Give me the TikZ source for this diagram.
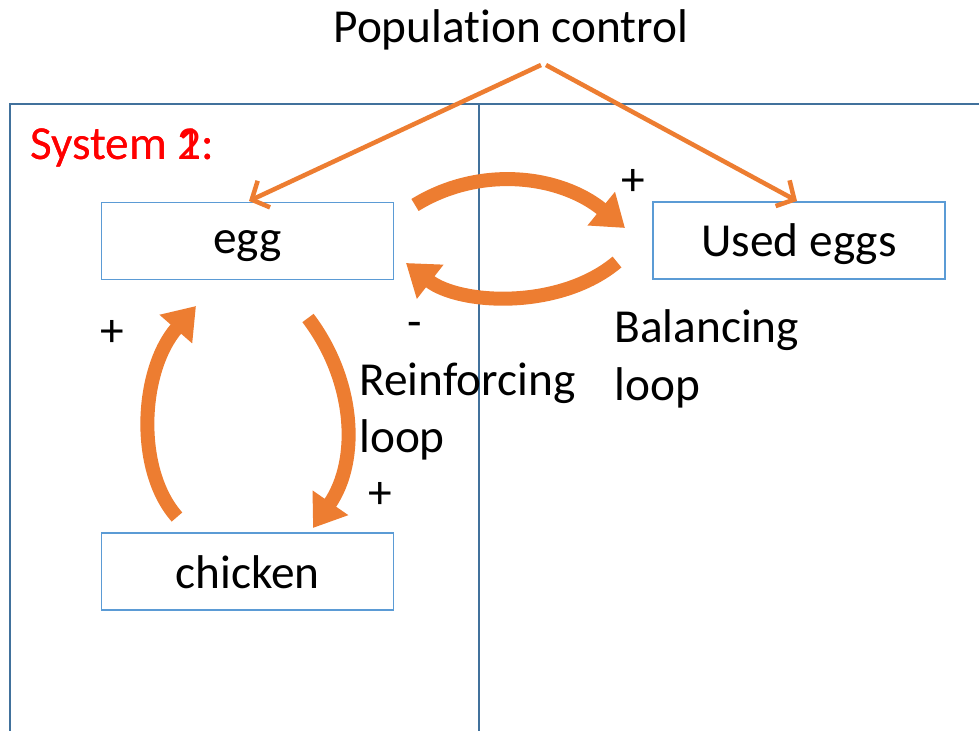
\documentclass[tikz,border=0pt]{standalone}
\usepackage{fontspec}
\setmainfont[Ligatures={NoCommon,NoContextual,NoRare}]{Carlito}
\usetikzlibrary{arrows.meta}
\definecolor{framec}{HTML}{41719C}
\definecolor{boxc}{HTML}{5B9BD5}
\definecolor{orgc}{HTML}{ED7D31}
\begin{document}
\begin{tikzpicture}[x=0.75pt,y=-0.75pt,
  txt/.style={font=\fontsize{35.5}{42}\selectfont, inner sep=0pt, anchor=base west},
  ctxt/.style={font=\fontsize{35.5}{42}\selectfont, inner sep=0pt, anchor=base},
  varbox/.style={draw=boxc, line width=1.4pt, minimum width=219pt, minimum height=57.75pt, inner sep=0pt},
  frameline/.style={draw=framec, line width=2pt},
  thinarrow/.style={draw=orgc, line width=3.4pt, -{Straight Barb[length=10pt,width=22pt,line width=3.4pt]}},
  bigarrow/.style={draw=orgc, line width=10.5pt, -{Triangle[length=23pt,width=31pt]}}]
\useasboundingbox (0,0) rectangle (979,731);
% frame
\draw[frameline] (10,731) -- (10,104) -- (979,104);
\draw[frameline] (479,104) -- (479,731);
% boxes
\node[varbox] (egg) at (247.5,241) {};
\node[varbox] (used) at (799,240.5) {};
\node[varbox] (chicken) at (247.5,571.5) {};
\node[ctxt] (eggt) at (247.5,254) {egg};
\node[ctxt] (usedt) at (799,257) {Used eggs};
\node[ctxt] (chickent) at (247.5,588) {chicken};
% texts
\node[ctxt] (pop) at (511,43) {Populat\kern0pt ion control};
\node[txt, text=red] (sys1) at (30,160) {System 1:};
\node[txt, text=red] (sys2) at (30,160) {System 2:};
\node[txt] (bal1) at (614,343) {Balancing};
\node[txt] (bal2) at (614,400) {loop};
\node[txt] (rein1) at (359,395) {Reinforcing};
\node[txt] (rein2) at (359,452) {loop};
\node[ctxt] (pl1) at (633,196) {+};
\node[ctxt] (mi1) at (415,337) {-};
\node[ctxt] (pl2) at (112,346) {+};
\node[ctxt] (pl3) at (380,508) {+};
% thin arrows
\coordinate (apexL) at (541,65);
\coordinate (apexR) at (546,65);
\coordinate (eggtop) at (249,201);
\coordinate (usedtop) at (797,201);
\draw[thinarrow] (apexL) -- (eggtop);
\draw[thinarrow] (apexR) -- (usedtop);
% thick curved arrows
\coordinate (a1s) at (415,205);
\coordinate (a1e) at (625,228);
\coordinate (a2s) at (617,262);
\coordinate (a2e) at (406,263);
\coordinate (a3s) at (177,517);
\coordinate (a3e) at (196,306);
\coordinate (a4s) at (308,318);
\coordinate (a4e) at (313,528);
\draw[bigarrow] (a1s) .. controls (480,165) and (560,175) .. (a1e);
\draw[bigarrow] (a2s) .. controls (560,310) and (460,305) .. (a2e);
\draw[bigarrow] (a3s) .. controls (135,470) and (140,370) .. (a3e);
\draw[bigarrow] (a4s) .. controls (355,380) and (360,460) .. (a4e);
\end{tikzpicture}
\end{document}
